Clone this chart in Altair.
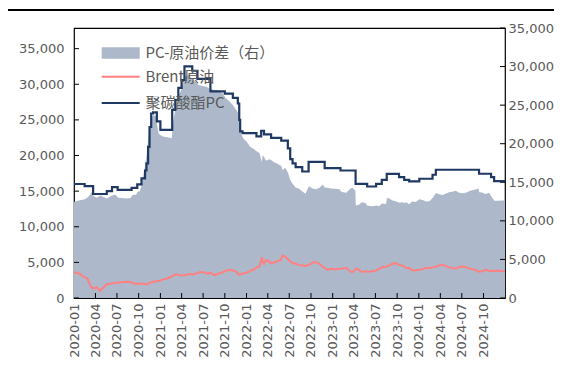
import altair as alt
import pandas as pd

# ---------------- data ----------------
spread_dates = [
    "2020-01-01", "2020-01-16", "2020-02-01", "2020-02-16", "2020-03-01", "2020-03-12", "2020-03-20",
    "2020-03-24", "2020-04-06", "2020-04-21", "2020-05-07", "2020-05-19", "2020-06-10", "2020-06-25",
    "2020-07-06", "2020-07-20", "2020-08-10", "2020-08-28", "2020-09-05", "2020-09-20", "2020-09-27",
    "2020-10-06", "2020-10-14", "2020-10-20", "2020-10-29", "2020-11-04", "2020-11-10", "2020-11-16",
    "2020-11-23", "2020-12-01", "2020-12-16", "2020-12-18", "2020-12-25", "2021-01-02", "2021-01-16",
    "2021-02-01", "2021-02-18", "2021-02-25", "2021-03-08", "2021-03-20", "2021-04-03", "2021-04-14",
    "2021-05-01", "2021-05-17", "2021-06-03", "2021-06-10", "2021-06-25", "2021-07-15", "2021-08-01",
    "2021-08-16", "2021-09-01", "2021-09-22", "2021-10-05", "2021-10-20", "2021-11-05", "2021-11-16",
    "2021-11-26", "2021-12-03", "2021-12-10", "2021-12-20", "2022-01-01", "2022-01-16", "2022-02-01",
    "2022-02-14", "2022-02-25", "2022-03-07", "2022-03-10", "2022-03-16", "2022-03-24", "2022-04-07",
    "2022-04-15", "2022-04-28", "2022-05-12", "2022-05-28", "2022-06-03", "2022-06-14", "2022-06-26",
    "2022-07-05", "2022-07-15", "2022-07-29", "2022-08-10", "2022-08-26", "2022-09-08", "2022-09-22",
    "2022-10-08", "2022-10-22", "2022-11-06", "2022-11-20", "2022-11-29", "2022-12-10", "2022-12-25",
    "2023-01-10", "2023-01-31", "2023-02-04", "2023-02-15", "2023-02-28", "2023-03-17", "2023-03-25",
    "2023-04-07", "2023-04-09", "2023-04-22", "2023-05-04", "2023-05-20", "2023-05-28", "2023-06-20",
    "2023-07-05", "2023-07-16", "2023-07-29", "2023-08-15", "2023-08-19", "2023-08-28", "2023-09-12",
    "2023-09-25", "2023-10-10", "2023-10-23", "2023-11-01", "2023-11-08", "2023-11-21", "2023-12-04",
    "2023-12-18", "2024-01-04", "2024-01-18", "2024-01-31", "2024-02-15", "2024-02-29", "2024-03-14",
    "2024-03-27", "2024-04-10", "2024-04-25", "2024-05-08", "2024-05-22", "2024-06-05", "2024-06-20",
    "2024-07-04", "2024-07-18", "2024-08-05", "2024-08-28", "2024-09-10", "2024-09-13", "2024-09-25",
    "2024-10-10", "2024-10-25", "2024-11-03", "2024-11-16", "2024-12-01", "2024-12-16", "2024-12-31",
]
spread_vals = [
    12440, 12600, 12700, 12800, 13100, 13500, 13900,
    13200, 13000, 13300, 13050, 12900, 13300, 13400,
    12980, 12950, 12900, 12950, 13350, 13400, 13800,
    13850, 14600, 15700, 17300, 18600, 20500, 22000,
    23300, 23700, 23600, 22400, 21300, 21100, 20900,
    20850, 20700, 23060, 24800, 26200, 27300, 28700,
    28900, 28300, 28000, 27600, 27500, 27400, 27100,
    27000, 26900, 26500, 25900, 25500, 25000, 24500,
    24000, 22500, 21200, 20600, 20300, 19600, 19300,
    19000, 18800, 17600, 18500, 18300, 17800, 18000,
    17900, 17600, 17400, 17100, 16600, 16900, 16200,
    15300, 14800, 14300, 14200, 13800, 13500, 14500,
    14200, 14100, 14300, 14700, 14300, 14300, 14200,
    14150, 14100, 13800, 13700, 13650, 14200, 14300,
    13900, 12000, 12100, 12400, 12300, 11950, 11900,
    12000, 11900, 12250, 12200, 12950, 12900, 12650,
    12550, 12350, 12400, 12300, 12400, 12150, 12500,
    12450, 12800, 12700, 12500, 12550, 13000, 13600,
    13450, 13350, 13550, 13700, 13770, 13900, 13650,
    13580, 13650, 13900, 14050, 14200, 13700, 13690,
    13480, 13640, 13150, 12600, 12600, 12650, 12630,
]

brent_dates = [
    "2020-01-01", "2020-01-10", "2020-01-26", "2020-02-08", "2020-02-17", "2020-02-26", "2020-03-08",
    "2020-03-12", "2020-03-22", "2020-04-01", "2020-04-06", "2020-04-14", "2020-04-21", "2020-04-28",
    "2020-05-07", "2020-05-17", "2020-06-01", "2020-06-15", "2020-07-01", "2020-07-16", "2020-08-10",
    "2020-08-26", "2020-09-10", "2020-09-25", "2020-10-06", "2020-10-20", "2020-11-03", "2020-11-16",
    "2020-12-01", "2020-12-16", "2021-01-01", "2021-01-15", "2021-01-28", "2021-02-12", "2021-02-25",
    "2021-03-08", "2021-03-23", "2021-04-06", "2021-04-21", "2021-05-05", "2021-05-20", "2021-06-03",
    "2021-06-16", "2021-07-01", "2021-07-20", "2021-08-01", "2021-08-12", "2021-08-20", "2021-09-03",
    "2021-09-16", "2021-10-01", "2021-10-21", "2021-11-05", "2021-11-16", "2021-12-01", "2021-12-16",
    "2022-01-01", "2022-01-16", "2022-02-01", "2022-02-14", "2022-02-25", "2022-03-03", "2022-03-07",
    "2022-03-10", "2022-03-16", "2022-03-24", "2022-04-07", "2022-04-12", "2022-04-28", "2022-05-12",
    "2022-05-25", "2022-06-03", "2022-06-14", "2022-07-01", "2022-07-14", "2022-07-29", "2022-08-10",
    "2022-08-27", "2022-09-08", "2022-09-24", "2022-10-08", "2022-10-22", "2022-11-06", "2022-11-20",
    "2022-12-10", "2022-12-25", "2023-01-10", "2023-01-31", "2023-02-15", "2023-02-28", "2023-03-17",
    "2023-03-25", "2023-04-12", "2023-04-22", "2023-05-04", "2023-05-20", "2023-06-04", "2023-06-20",
    "2023-07-05", "2023-07-16", "2023-08-01", "2023-08-15", "2023-08-28", "2023-09-12", "2023-09-25",
    "2023-10-09", "2023-10-23", "2023-11-08", "2023-11-20", "2023-12-04", "2023-12-18", "2024-01-05",
    "2024-01-18", "2024-01-31", "2024-02-15", "2024-03-01", "2024-03-15", "2024-03-27", "2024-04-10",
    "2024-04-25", "2024-05-08", "2024-05-22", "2024-06-05", "2024-06-20", "2024-07-04", "2024-07-18",
    "2024-08-05", "2024-08-28", "2024-09-10", "2024-09-25", "2024-10-10", "2024-10-25", "2024-11-10",
    "2024-11-25", "2024-12-10", "2024-12-31",
]
brent_vals = [
    3620, 3550, 3390, 3050, 2900, 2800, 1900,
    1600, 1330, 1450, 1520, 1300, 1000, 1250,
    1550, 1900, 2000, 2080, 2150, 2200, 2270,
    2250, 2000, 2050, 2000, 2000, 1900, 2100,
    2270, 2350, 2450, 2650, 2700, 2950, 3150,
    3350, 3200, 3150, 3250, 3350, 3300, 3450,
    3600, 3650, 3400, 3550, 3300, 3200, 3400,
    3550, 3750, 3960, 3850, 3750, 3260, 3450,
    3550, 3770, 4000, 4300, 4420, 5200, 5730,
    5100, 4800, 5300, 5170, 4900, 4990, 5150,
    5300, 5970, 5800, 5270, 4900, 4800, 4650,
    4560, 4500, 4700, 5000, 5030, 4800, 4400,
    3960, 4100, 4050, 4100, 4150, 4230, 3700,
    3620, 4150, 3960, 3650, 3750, 3700, 3750,
    3850, 4100, 4350, 4400, 4560, 4800, 4890,
    4650, 4560, 4200, 4250, 3860, 3900, 3950,
    4050, 4230, 4200, 4300, 4400, 4560, 4650,
    4450, 4300, 4230, 4100, 4350, 4420, 4350,
    4100, 3950, 3700, 3750, 3960, 3800, 3800,
    3850, 3800, 3770,
]

pc_dates = [
    "2020-01-01", "2020-02-15", "2020-03-22", "2020-05-19", "2020-06-10", "2020-07-04", "2020-09-01",
    "2020-09-25", "2020-10-13", "2020-10-28", "2020-11-03", "2020-11-10", "2020-11-16", "2020-11-23",
    "2020-12-01", "2020-12-17", "2021-01-01", "2021-02-20", "2021-03-05", "2021-03-18", "2021-04-01",
    "2021-04-13", "2021-05-16", "2021-06-07", "2021-08-01", "2021-10-01", "2021-11-04", "2021-11-25",
    "2021-12-01", "2021-12-05", "2021-12-15", "2022-02-12", "2022-03-04", "2022-03-16", "2022-04-15",
    "2022-05-28", "2022-06-25", "2022-07-05", "2022-07-15", "2022-07-28", "2022-08-25", "2022-09-21",
    "2022-11-28", "2023-02-03", "2023-04-08", "2023-05-27", "2023-07-04", "2023-07-28", "2023-08-18",
    "2023-10-09", "2023-10-31", "2023-11-21", "2024-01-03", "2024-02-28", "2024-03-13", "2024-09-12",
    "2024-11-02", "2024-11-15", "2024-12-31",
]
pc_vals = [
    16000, 15700, 14600, 15000, 15560, 15180, 15460,
    15950, 16800, 17900, 18900, 21200, 24000, 25900,
    26050, 24800, 23600, 26400, 27800, 29500, 30600,
    32500, 31900, 30750, 29000, 28700, 28100, 27300,
    25000, 23400, 23150, 22700, 23480, 22960, 22490,
    22100, 21000, 19500, 18900, 18380, 17760, 19100,
    18240, 17900, 16030, 15650, 16030, 16590, 17430,
    16960, 16590, 16360, 16740, 17300, 18000, 17440,
    16960, 16400, 16400,
]

quarter_labels = [
    "2020-01", "2020-04", "2020-07", "2020-10", "2021-01", "2021-04", "2021-07", "2021-10",
    "2022-01", "2022-04", "2022-07", "2022-10", "2023-01", "2023-04", "2023-07", "2023-10",
    "2024-01", "2024-04", "2024-07", "2024-10",
]
y_ticks = [0, 5000, 10000, 15000, 20000, 25000, 30000, 35000]

name_spread = "PC-原油价差（右）"
name_brent = "Brent原油"
name_pc = "聚碳酸酯PC"

# ---------------- styling ----------------
W, H = 431, 270
PAD = {"left": 66, "top": 20, "right": 49, "bottom": 61}
AX_FONT = "DejaVu Sans"
LG_FONT = "Noto Sans CJK SC"
GRAY = "#595959"
C_AREA = "#ADB9CA"
C_BRENT = "#FF8080"
C_PC = "#1F3864"

area_df = pd.DataFrame({"date": spread_dates, "value": spread_vals, "s": name_spread})
brent_df = pd.DataFrame({"date": brent_dates, "value": brent_vals, "s": name_brent})
pc_df = pd.DataFrame({"date": pc_dates, "value": pc_vals, "s": name_pc})
yt_df = pd.DataFrame({"value": y_ticks})
xt_df = pd.DataFrame({"date": [q + "-01" for q in quarter_labels[1:]]})
deco_df = pd.DataFrame({"k": [0]})

x_vals = [alt.DateTime(year=int(q[:4]), month=int(q[5:]), date=1, utc=True) for q in quarter_labels]
x_scale = alt.Scale(
    type="utc",
    domain=[alt.DateTime(year=2020, month=1, date=1, utc=True),
            alt.DateTime(year=2024, month=12, date=31, utc=True)],
    nice=False,
)
x_axis = alt.Axis(
    values=x_vals, format="%Y-%m", labelAngle=270, labelFont=AX_FONT, labelFontSize=13,
    labelColor=GRAY, labelPadding=5, ticks=False, domain=False, grid=False, title=None,
    labelOverlap=False, labelFlush=False,
)
X = alt.X("date:T", scale=x_scale, axis=x_axis)

left_scale = alt.Scale(domain=[0, 37900], nice=False, zero=True)
right_scale = alt.Scale(domain=[0, 35000], nice=False, zero=True)
left_axis = alt.Axis(
    values=y_ticks, format=",.0f", orient="left", labelFont=AX_FONT, labelFontSize=13,
    labelColor=GRAY, labelPadding=10, ticks=False, domain=False, grid=False, title=None,
)
right_axis = alt.Axis(
    values=y_ticks, format=",.0f", orient="right", labelFont=AX_FONT, labelFontSize=13,
    labelColor=GRAY, labelPadding=3, ticks=False, domain=False, grid=False, title=None,
    labelFlush=False,
)
YL = alt.Y("value:Q", scale=left_scale, axis=left_axis)
YR = alt.Y("value:Q", scale=right_scale, axis=right_axis)


def legend(x, y, stype, sw, off):
    return alt.Legend(
        orient="none", legendX=x, legendY=y, title=None, padding=0,
        labelFont=LG_FONT, labelFontSize=15, labelColor=GRAY, labelOffset=off,
        symbolType=stype, symbolSize=1444, symbolStrokeWidth=sw,
    )


area = alt.Chart(area_df).mark_area(opacity=1).encode(
    x=X, y=YR,
    fill=alt.Fill("s:N", scale=alt.Scale(domain=[name_spread], range=[C_AREA]),
                  legend=legend(27.7, 6, "M-1,-0.3H1V0.3H-1Z", 0, 5.8)),
)
rticks = alt.Chart(yt_df).mark_rule(color="#000", strokeWidth=1).encode(
    y=YR, x=alt.value(W - 5), x2=alt.value(W)
)
right_group = alt.layer(area, rticks)

brent = alt.Chart(brent_df).mark_line(strokeWidth=2).encode(
    x=X, y=YL,
    stroke=alt.Stroke("s:N", scale=alt.Scale(domain=[name_brent], range=[C_BRENT]),
                      legend=legend(26.7, 28.7, "stroke", 2, 4.8)),
)
pc = alt.Chart(pc_df).mark_line(strokeWidth=2.2, interpolate="step-after").encode(
    x=X, y=YL,
    color=alt.Color("s:N", scale=alt.Scale(domain=[name_pc], range=[C_PC]),
                    legend=legend(26.7, 55, "stroke", 2, 4.8)),
)
lticks = alt.Chart(yt_df).mark_rule(color="#000", strokeWidth=1).encode(
    y=YL, x=alt.value(0), x2=alt.value(5)
)
xticks = alt.Chart(xt_df).mark_rule(color="#000", strokeWidth=1).encode(
    x=X, y=alt.value(H - 5), y2=alt.value(H)
)
left_group = alt.layer(brent, pc, lticks, xticks)

# dark page rule at the very top of the figure (document header line)
deco = alt.Chart(deco_df).mark_rule(color="#000000", strokeWidth=2, opacity=1, clip=False).encode(
    x=alt.value(-PAD["left"]), x2=alt.value(W + PAD["right"]), y=alt.value(-18)
)

chart = (
    alt.layer(right_group, left_group, deco)
    .resolve_scale(y="independent")
    .properties(
        width=W, height=H,
        padding=PAD,
        autosize=alt.AutoSizeParams(type="none"),
    )
    .configure_view(stroke="#000", strokeWidth=1.2)
)

chart.save("out.html", embed_options={"renderer": "svg", "actions": False})
